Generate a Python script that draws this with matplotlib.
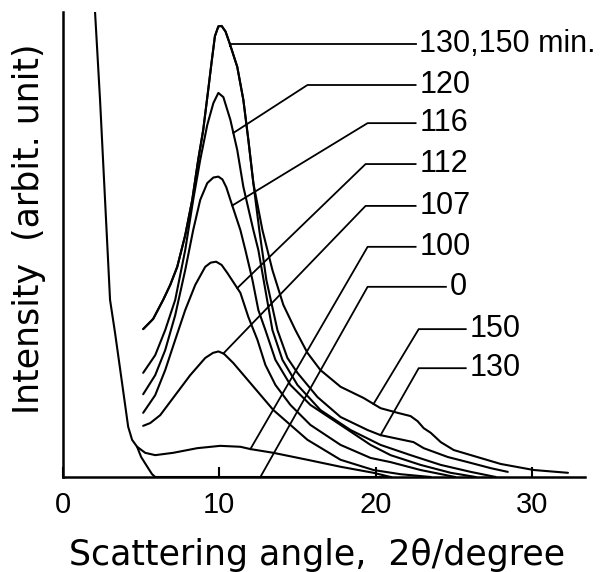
import matplotlib.pyplot as plt
import numpy as np

# 散乱曲線のデータ (x: 2θ/degree, y: 強度 任意単位)
x_beam = [2.05, 2.37, 2.69, 3.01, 3.33, 3.78, 4.17, 4.42, 4.74, 5.0, 5.45, 5.70, 5.90, 12.0, 21.0]
y_beam = [100, 81.1, 59.6, 38.1, 31.0, 20.2, 10.8, 8.0, 6.5, 4.3, 1.9, 0.6, 0, 0, 0]

x_100 = [4.74, 5.26, 5.90, 7.05, 8.59, 10.06, 11.35, 12.0, 13.46, 15.64, 17.76, 19.87, 20.96]
y_100 = [6.5, 5.2, 4.7, 5.2, 6.2, 6.7, 6.5, 6.0, 5.2, 3.7, 2.2, 0.9, 0]

x_107 = [5.13, 5.58, 6.22, 7.18, 8.14, 9.10, 9.60, 9.95, 10.30, 10.90, 11.99, 13.46, 14.55,
         15.64, 17.76, 19.87, 21.60, 23.53]
y_107 = [11.0, 11.6, 13.3, 17.6, 21.9, 25.6, 26.7, 27.0, 26.5, 24.5, 20.2, 14.4, 11.2,
         8.0, 3.7, 1.5, 0.6, 0]

x_112 = [5.13, 5.90, 6.54, 7.18, 7.82, 8.46, 9.10, 9.45, 9.80, 10.15, 10.51, 11.35, 11.86,
         12.44, 12.95, 13.59, 14.55, 15.83, 17.76, 19.68, 20.96, 22.88, 25.10]
y_112 = [13.8, 17.6, 23.0, 29.5, 35.9, 41.3, 45.2, 46.1, 46.3, 45.6, 43.9, 39.6, 34.4,
         29.5, 24.1, 19.8, 15.5, 11.2, 6.9, 4.1, 3.2, 1.5, 0]

x_116 = [5.13, 5.90, 6.54, 7.18, 7.82, 8.33, 8.78, 9.23, 9.62, 9.94, 10.20, 10.45, 10.71,
         11.35, 11.67, 12.12, 12.50, 12.95, 13.59, 14.55, 15.83, 17.76, 19.68, 20.96,
         22.88, 24.81, 26.41]
y_116 = [17.8, 21.9, 27.3, 34.8, 44.5, 53.1, 59.6, 63.2, 64.4, 64.6, 64.0, 62.3, 59.6,
         53.1, 48.8, 42.4, 35.9, 31.6, 25.2, 19.8, 15.5, 11.2, 6.9, 4.7,
         2.6, 0.9, 0]

x_120 = [5.13, 5.90, 6.54, 7.18, 7.82, 8.33, 8.78, 9.23, 9.62, 9.94, 10.26, 10.71,
         11.15, 11.54, 12.18, 12.50, 12.95, 13.40, 14.04, 15.0, 16.47, 18.40, 20.32,
         22.24, 24.17, 26.09, 27.69]
y_120 = [22.4, 26.2, 31.6, 38.1, 48.8, 59.6, 68.2, 75.7, 80.4, 82.6, 81.7, 76.8,
         70.3, 62.4, 53.1, 48.8, 40.2, 31.6, 25.2, 19.8, 14.4, 10.1, 6.9,
         4.7, 2.6, 1.1, 0]

# 130, 150 min. はピークまで共通
x_rise = [5.13, 5.77, 6.41, 6.86, 7.31, 7.82, 8.27, 8.65, 8.97, 9.29, 9.50, 9.72, 9.94,
          10.15, 10.40, 10.65, 11.15, 11.54, 11.86, 12.18]
y_rise = [31.8, 34.0, 38.1, 41.3, 45.2, 52.0, 59.6, 68.2, 74.6, 83.2, 89.0, 94.8, 96.9,
          97.0, 95.8, 93.4, 88.2, 81.1, 72.5, 63.2]

x_130 = x_rise + [12.56, 13.01, 13.72, 14.36, 15.0, 16.28, 17.76, 19.49, 20.32,
                  22.43, 23.08, 24.62, 25.90, 27.37, 28.46]
y_130 = y_rise + [53.1, 42.4, 31.6, 25.6, 22.4, 17.2, 12.9, 10.1, 9.0,
                  7.5, 6.2, 4.3, 3.2, 1.9, 1.1]

x_150 = x_rise + [12.76, 13.40, 14.10, 14.87, 15.64, 16.47, 17.76, 19.23, 20.32,
                  21.41, 22.24, 22.69, 23.08, 23.53, 24.17, 25.0, 25.90, 28.01,
                  30.13, 32.31]
y_150 = y_rise + [53.1, 44.5, 37.0, 31.6, 26.7, 23.0, 19.4, 17.0, 14.8,
                  13.8, 13.1, 12.0, 10.5, 9.5, 7.5, 5.8, 4.9, 2.8,
                  1.5, 0.9]

curves = [(x_beam, y_beam), (x_100, y_100), (x_107, y_107), (x_112, y_112),
          (x_116, y_116), (x_120, y_120), (x_130, y_130), (x_150, y_150)]

# ラベル: (テキスト, 指す曲線, 指すx, 折れ点x, 文字の高さy, 線の終点x)
labels = [("130,150 min.", (x_150, y_150), 10.71, 10.71, 93.2, 22.56),
          ("120", (x_120, y_120), 10.90, 15.64, 84.3, 22.56),
          ("116", (x_116, y_116), 10.83, 19.49, 76.1, 22.56),
          ("112", (x_112, y_112), 11.15, 19.36, 67.3, 22.56),
          ("107", (x_107, y_107), 10.26, 19.36, 58.3, 22.56),
          ("100", (x_100, y_100), 11.99, 19.49, 49.5, 22.56),
          ("0", (x_beam, y_beam), 12.63, 19.49, 40.9, 24.5),
          ("150", (x_150, y_150), 19.87, 22.76, 31.8, 25.77),
          ("130", (x_130, y_130), 20.32, 22.76, 23.4, 25.77)]

fig = plt.figure(figsize=(6.01, 5.72), dpi=100)
ax = fig.add_axes([63/601, 95/572, 522/601, 465/572])

for cx, cy in curves:
    ax.plot(cx, cy, "-k", lw=1.5, solid_capstyle="round", solid_joinstyle="round")

numfont = ["Liberation Sans", "DejaVu Sans"]
for text, (cx, cy), xt, xe, yl, xend in labels:
    yt = np.interp(xt, cx, cy)
    ax.plot([xt, xe, xend], [yt, yl, yl], "-k", lw=1.3, clip_on=False)
    ax.text(xend + 0.25, yl, text, ha="left", va="center", fontsize=22,
            family=numfont, clip_on=False)

ax.set_xlim(0, 33.4)
ax.set_ylim(0, 100)
ax.spines["top"].set_visible(False)
ax.spines["right"].set_visible(False)
ax.spines["left"].set_linewidth(1.8)
ax.spines["bottom"].set_linewidth(1.8)
ax.set_xticks([0, 10, 20, 30])
ax.set_yticks([])
ax.tick_params(axis="x", direction="in", length=7, width=1.5, pad=10, labelsize=21)
for lab in ax.get_xticklabels():
    lab.set_family(numfont)

fig.text(29/601, 1 - 229/572, "Intensity  (arbit. unit)", rotation=90,
         ha="center", va="center", fontsize=25)
fig.text(317/601, 1 - 555/572, "Scattering angle,  2θ/degree",
         ha="center", va="center", fontsize=25)

fig.savefig("out.png", dpi=100)
